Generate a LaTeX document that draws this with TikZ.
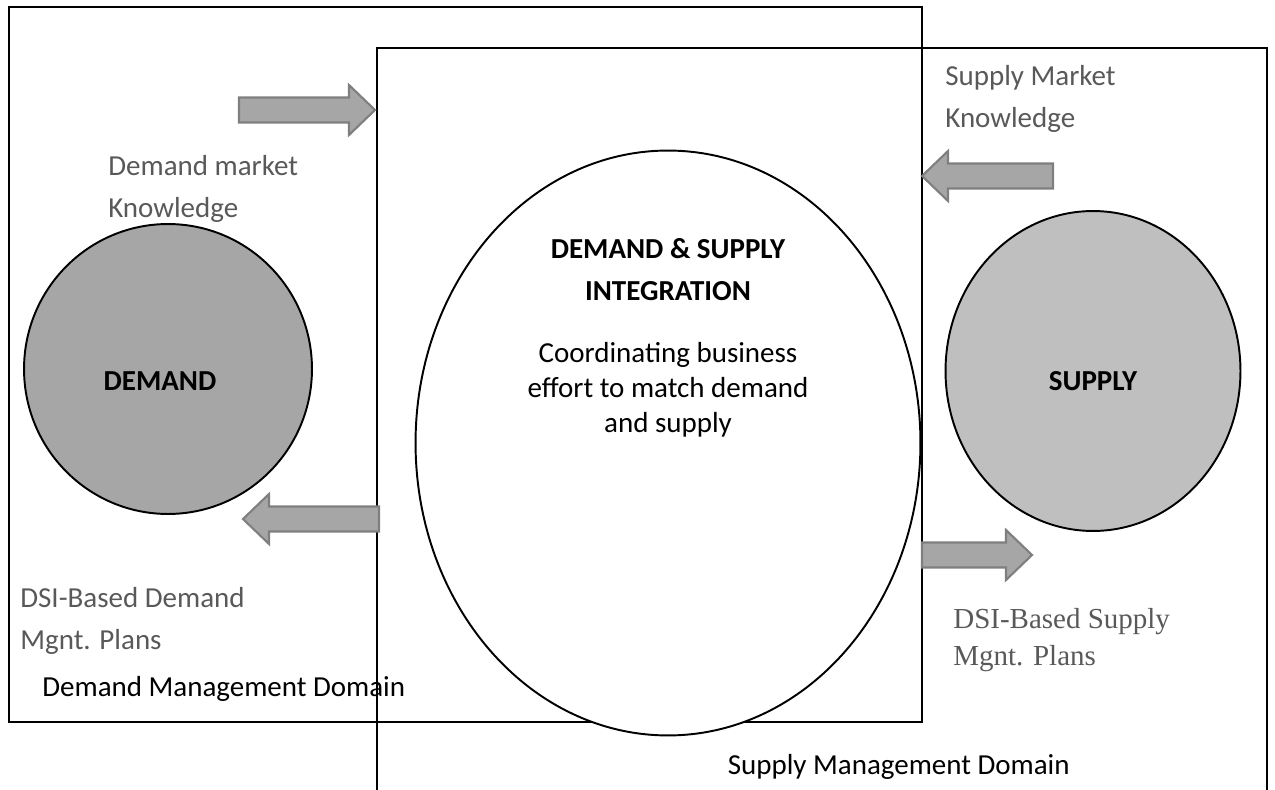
\documentclass[tikz,border=0pt]{standalone}
\usepackage{fontspec}
\setmainfont{Carlito}
\newfontfamily\timesfont{Liberation Serif}
\usetikzlibrary{shapes.geometric}
\definecolor{lblgray}{HTML}{595959}
\definecolor{arrfill}{HTML}{A6A6A6}
\definecolor{arrline}{HTML}{7F7F7F}
\definecolor{dmdfill}{HTML}{A6A6A6}
\definecolor{supfill}{HTML}{BFBFBF}
\tikzset{
  dom/.style={draw,line width=1.6pt},
  blob/.style={ellipse,draw,line width=1.1pt,inner sep=0pt},
  blk/.style={fill=arrfill,draw=arrline,line width=1.2pt},
  lbl/.style={inner sep=0pt,align=left,text=lblgray,font=\fontsize{16.5}{23.8}\selectfont},
  txt/.style={inner sep=0pt,align=center,font=\fontsize{16.5}{19.8}\selectfont},
}
% block arrows: start x, tip x, centre y
\newcommand{\rblk}[3]{\draw[blk] (#1,#3-12.5) -- (#2-26,#3-12.5) -- (#2-26,#3-25) -- (#2,#3)
  -- (#2-26,#3+25) -- (#2-26,#3+12.5) -- (#1,#3+12.5) -- cycle;}
\newcommand{\lblk}[3]{\draw[blk] (#1,#3-12.5) -- (#2+26,#3-12.5) -- (#2+26,#3-25) -- (#2,#3)
  -- (#2+26,#3+25) -- (#2+26,#3+12.5) -- (#1,#3+12.5) -- cycle;}

\begin{document}
\begin{tikzpicture}[x=0.02cm,y=-0.02cm]
\useasboundingbox (0,0) rectangle (1275,790);
\clip (0,0) rectangle (1275,790);
% the two domains
\draw[dom] (9,7) rectangle (922,722);
\draw[dom] (377,800) -- (377,48) -- (1267,48) -- (1267,800);
% demand, integration, supply (sizes in cm, 1px = 0.02cm)
\node[blob,fill=dmdfill,minimum width=5.76cm,minimum height=5.8cm] (dmd) at (168,369) {};
\node[blob,fill=white,minimum width=10.1cm,minimum height=11.7cm] (dsi) at (668,443) {};
\node[blob,fill=supfill,minimum width=5.9cm,minimum height=6.4cm] (sup) at (1093,371) {};
\node[txt,font=\fontsize{16.5}{19.8}\selectfont\bfseries] (dmdt) at (160,381) {DEMAND};
\node[txt,font=\fontsize{16.5}{19.8}\selectfont\bfseries] (supt) at (1093,381) {SUPPLY};
\node[txt,font=\fontsize{16.5}{23.8}\selectfont\bfseries] (dsit) at (668,270) {DEMAND \& SUPPLY\\INTEGRATION};
\node[txt] (dsid) at (668,390) {Coordinating business\\effort to match demand\\and supply};
% flows
\rblk{239}{375}{110} \lblk{1053}{922}{176}
\lblk{379}{243}{519} \rblk{922}{1032}{555}
\node[lbl,anchor=west] (dmk) at (108,189) {Demand market\\Knowledge};
\node[lbl,anchor=west] (smk) at (945,99) {Supply Market\\Knowledge};
\node[lbl,anchor=west] (dpl) at (20,621) {DSI-Based Demand\\Mgnt. Plans};
\node[lbl,anchor=west,font=\timesfont\fontsize{16.5}{21}\selectfont] (spl) at (953,640) {DSI-Based Supply\\Mgnt. Plans};
\node[txt,anchor=west] (dmdom) at (42,689) {Demand Management Domain};
\node[txt,anchor=east] (supdom) at (1070,767) {Supply Management Domain};
\end{tikzpicture}
\end{document}
